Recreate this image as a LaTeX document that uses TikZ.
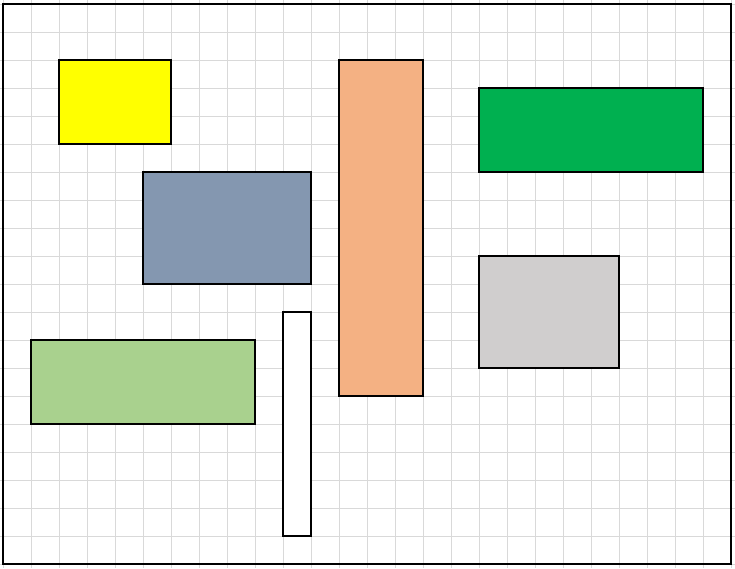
\documentclass[tikz,border=0pt]{standalone}
\begin{document}
\begin{tikzpicture}[x=1pt,y=-1pt,
  box/.style={draw=black,line width=1.2pt},
  gridline/.style={draw={rgb,255:red,217;green,217;blue,217},line width=0.8pt}]
\definecolor{cyel}{RGB}{255,255,0}
\definecolor{cblue}{RGB}{132,151,176}
\definecolor{corange}{RGB}{244,177,131}
\definecolor{cgreen}{RGB}{0,176,80}
\definecolor{cgray}{RGB}{208,206,206}
\definecolor{clgreen}{RGB}{169,209,142}
\useasboundingbox (0,0) rectangle (735,568);
\foreach \i in {0,...,26} { \draw[gridline] (3+28*\i,0) -- (3+28*\i,568); }
\foreach \j in {0,...,20} { \draw[gridline] (0,4+28*\j) -- (735,4+28*\j); }
\draw[line width=1.6pt] (3,4) rectangle (731,564);
\node[box,fill=cyel,minimum width=112pt,minimum height=84pt,inner sep=0pt] (yellow) at (115,102) {};
\node[box,fill=cblue,minimum width=168pt,minimum height=112pt,inner sep=0pt] (blue) at (227,228) {};
\node[box,fill=corange,minimum width=84pt,minimum height=336pt,inner sep=0pt] (orange) at (381,228) {};
\node[box,fill=cgreen,minimum width=224pt,minimum height=84pt,inner sep=0pt] (green) at (591,130) {};
\node[box,fill=cgray,minimum width=140pt,minimum height=112pt,inner sep=0pt] (gray) at (549,312) {};
\node[box,fill=clgreen,minimum width=224pt,minimum height=84pt,inner sep=0pt] (lgreen) at (143,382) {};
\node[box,fill=white,minimum width=28pt,minimum height=224pt,inner sep=0pt] (white) at (297,424) {};
\end{tikzpicture}
\end{document}
